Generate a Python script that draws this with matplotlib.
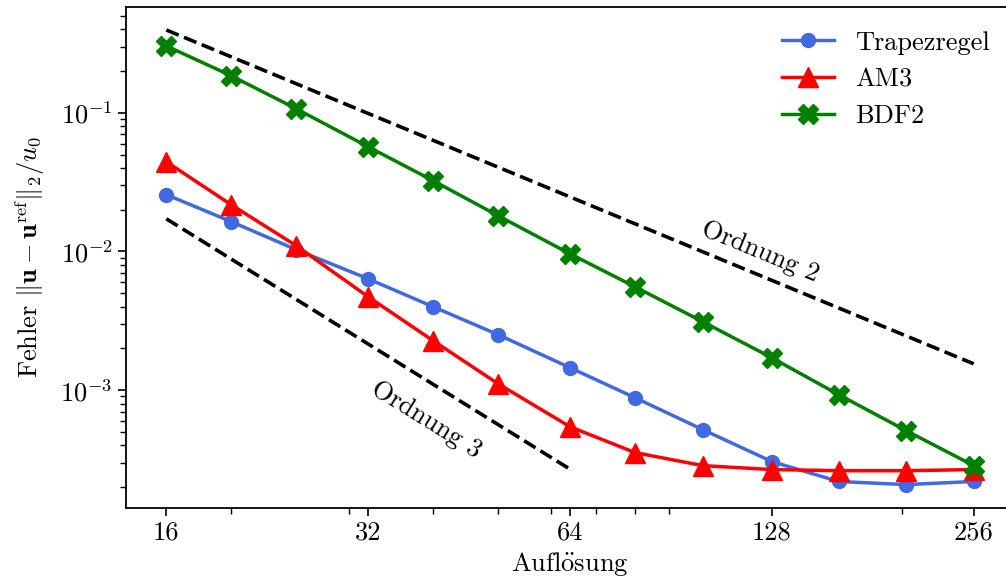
"""Konvergenzstudie: Fehler über Auflösung (log-log)"""
import matplotlib
matplotlib.use('Agg')
import matplotlib.pyplot as plt
from matplotlib.ticker import NullFormatter

plt.rcParams['font.family'] = 'serif'
plt.rcParams['font.serif'] = ['cmr10']
plt.rcParams['mathtext.fontset'] = 'cm'
plt.rcParams['axes.formatter.use_mathtext'] = True
plt.rcParams['axes.unicode_minus'] = False

# Auflösungen
aufloesung = [16, 20, 25, 32, 40, 50, 64, 80, 101, 128, 161, 203, 256]

# Fehler je Verfahren
trapez = [0.0257, 0.0164, 0.0103, 0.00635, 0.00399, 0.00251, 0.00145,
          0.000881, 0.000518, 0.000305, 0.000219, 0.000208, 0.000219]
am3 = [0.0444, 0.0217, 0.0110, 0.00471, 0.00227, 0.00111, 0.000544,
       0.000354, 0.000285, 0.000267, 0.000262, 0.000262, 0.000267]
bdf2 = [0.304, 0.185, 0.107, 0.0569, 0.0324, 0.0181, 0.00962,
        0.00556, 0.00311, 0.00171, 0.000927, 0.000510, 0.000285]

# Referenzgeraden
ord2_x = [16, 256]
ord2_y = [0.396, 0.396 / 256]
ord3_x = [16, 64]
ord3_y = [0.0172, 0.0172 / 64]

xticks = [16, 32, 64, 128, 256]

fig = plt.figure(figsize=(10.06, 5.86), dpi=100)
ax = fig.add_axes([0.1252, 0.1331, 1.008 - 0.1252, 0.988 - 0.1331])

ax.plot(aufloesung, trapez, 'o-', color='royalblue', lw=2.5, ms=10, label='Trapezregel')
ax.plot(aufloesung, am3, '^-', color='red', lw=2.5, ms=14, label='AM3')
ax.plot(aufloesung, bdf2, 'X-', color='green', lw=2.5, ms=14, label='BDF2')
ax.plot(ord2_x, ord2_y, '--', color='black', lw=2.6)
ax.plot(ord3_x, ord3_y, '--', color='black', lw=2.6)

ax.text(123, 0.0099, 'Ordnung 2', rotation=-22.4, rotation_mode='anchor',
        ha='center', va='center', fontsize=19)
ax.text(39, 0.00061, 'Ordnung 3', rotation=-31.8, rotation_mode='anchor',
        ha='center', va='center', fontsize=19)

ax.set_xscale('log')
ax.set_yscale('log')
ax.set_xticks(xticks)
ax.set_xticklabels([str(t) for t in xticks])
ax.xaxis.set_minor_formatter(NullFormatter())
ax.set_ylim(1.41e-4, 0.58)

ax.tick_params(which='major', labelsize=19, length=6, width=1.2)
ax.tick_params(which='minor', length=4, width=1.0)
for sp in ax.spines.values():
    sp.set_linewidth(1.3)

ax.set_xlabel(r'Aufl$\mathrm{\ddot{o}}$sung', fontsize=19, labelpad=4)
ax.set_ylabel(r'Fehler $\|\mathbf{u}-\mathbf{u}^{\mathrm{ref}}\|_2/u_0$', fontsize=19,
              labelpad=10)
ax.legend(loc='upper right', frameon=False, fontsize=19)

fig.savefig('out.png', dpi=100)
